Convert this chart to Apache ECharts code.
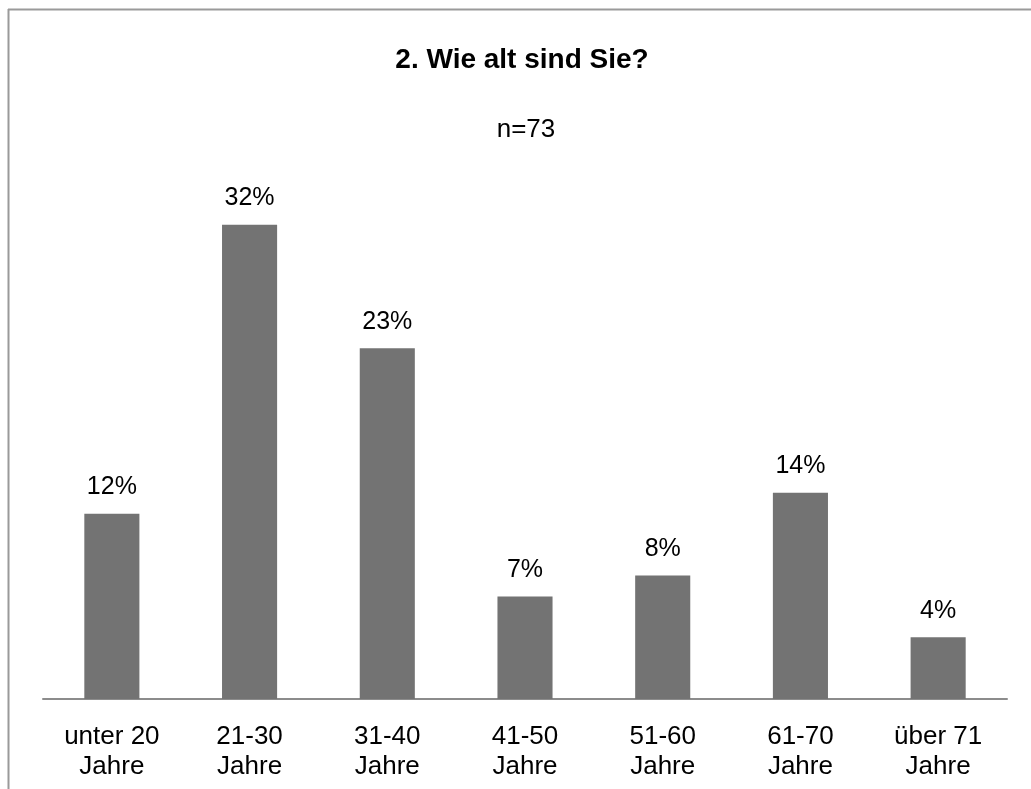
<!DOCTYPE html>
<html>
<head>
<meta charset="utf-8">
<script src="https://cdn.jsdelivr.net/npm/echarts@6/dist/echarts.min.js"></script>
<style>
  html, body { margin: 0; padding: 0; background: #fff; }
  #chartContainer { width: 1031px; height: 789px; }
</style>
</head>
<body>
<div id="chartContainer"></div>
<script>
// Umfrage: Altersverteilung, n = 73
var categories = ['unter 20\nJahre', '21-30\nJahre', '31-40\nJahre', '41-50\nJahre', '51-60\nJahre', '61-70\nJahre', 'über 71\nJahre'];
var shares = [12.3, 31.5, 23.3, 6.8, 8.2, 13.7, 4.1];

var font = 'Liberation Sans, Arial, sans-serif';
var chart = echarts.init(document.getElementById('chartContainer'));

chart.setOption({
    animation: false,
    title: [{
        text: '2. Wie alt sind Sie?',
        left: 517,
        top: 41,
        textAlign: 'center',
        textStyle: { fontFamily: font, fontSize: 28, fontWeight: 'bold', color: '#000' }
    }, {
        text: 'n=73',
        left: 521,
        top: 112,
        textAlign: 'center',
        textStyle: { fontFamily: font, fontSize: 26, fontWeight: 'normal', color: '#000' }
    }],
    grid: { left: 43, right: 24, top: 172, bottom: 90 },
    xAxis: {
        type: 'category',
        data: categories,
        axisLine: { lineStyle: { color: '#8c8c8c', width: 2 } },
        axisTick: { show: false },
        axisLabel: { fontFamily: font, fontSize: 26, lineHeight: 30, color: '#000', margin: 23, interval: 0 }
    },
    yAxis: {
        type: 'value',
        min: 0,
        max: 35,
        show: false,
        splitLine: { show: false }
    },
    series: [{
        type: 'bar',
        data: shares,
        barWidth: '40%',
        itemStyle: { color: '#737373' },
        label: {
            show: true,
            position: 'top',
            distance: 14,
            fontFamily: font,
            fontSize: 25,
            color: '#000',
            formatter: function (p) { return Math.round(p.value) + '%'; }
        }
    }],
    graphic: [
        { type: 'line', shape: { x1: 8, y1: 9.5, x2: 1031, y2: 9.5 }, style: { stroke: '#9a9a9a', lineWidth: 2 } },
        { type: 'line', shape: { x1: 8.5, y1: 9, x2: 8.5, y2: 789 }, style: { stroke: '#9a9a9a', lineWidth: 2 } }
    ]
});
</script>
</body>
</html>
